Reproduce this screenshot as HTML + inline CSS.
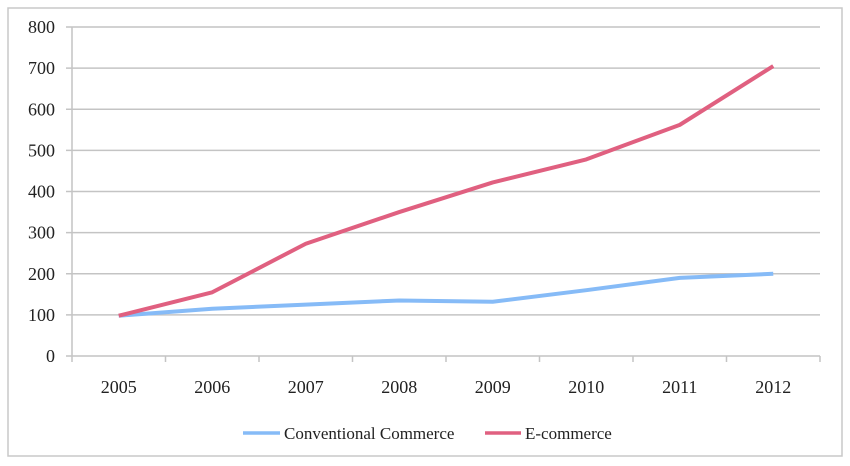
<!DOCTYPE html>
<html><head><meta charset="utf-8"><style>
body{margin:0;background:#fff;}
svg{display:block;font-family:"Liberation Serif",serif;}
</style></head><body>
<svg id="chart" width="850" height="466">
<rect x="8" y="8" width="834" height="448" fill="#fff" stroke="#c8c8c8" stroke-width="1.5"/>
<g id="grid"></g><g id="axes"></g><g id="series"></g>
<g>
<line x1="243" y1="433" x2="280" y2="433" stroke="#86bbf7" stroke-width="3.5"/>
<text x="284" y="439" font-size="17" fill="#222">Conventional  Commerce</text>
<line x1="485" y1="433" x2="521" y2="433" stroke="#e06080" stroke-width="3.5"/>
<text x="525" y="439" font-size="17" fill="#222">E-commerce</text>
</g>
</svg>
<script>
const categories=["2005","2006","2007","2008","2009","2010","2011","2012"];
const conventional=[98,115,125,135,132,160,190,200];
const ecommerce=[98,155,273,350,422,478,562,705];
const yTicks=[0,100,200,300,400,500,600,700,800];
const NS="http://www.w3.org/2000/svg";
const L=72,R=820,T=27,B=356,yMax=800;
const bw=(R-L)/categories.length;
const x=i=>L+bw*(i+0.5);
const y=v=>B-(v/yMax)*(B-T);
function mk(t,a,p){const e=document.createElementNS(NS,t);for(const k in a)e.setAttribute(k,a[k]);p.appendChild(e);return e;}
const grid=document.getElementById('grid'),axes=document.getElementById('axes'),ser=document.getElementById('series');
yTicks.forEach(v=>{
 const g=mk('line',{x1:L-6,x2:R,y1:y(v),y2:y(v),stroke:'#c4c4c4','stroke-width':1.5},grid);
 
 
 const t=mk('text',{x:L-17,y:y(v)+6,'text-anchor':'end','font-size':18,fill:'#222'},axes);
 t.textContent=v;
 
 
});
const ya=mk('line',{x1:L,x2:L,y1:T,y2:B,stroke:'#c4c4c4','stroke-width':1.5},axes);


for(let i=0;i<=categories.length;i++){
 const tk=mk('line',{x1:L+bw*i,x2:L+bw*i,y1:B,y2:B+6,stroke:'#c4c4c4','stroke-width':1.5},axes);
 
 
}
categories.forEach((c,i)=>{
 const t=mk('text',{x:x(i),y:B+37,'text-anchor':'middle','font-size':18,fill:'#222'},axes);
 t.textContent=c;
 
 
});
function line(data,color,name){
 const p=mk('polyline',{points:data.map((v,i)=>x(i)+','+y(v)).join(' '),fill:'none',stroke:color,'stroke-width':4,'stroke-linejoin':'round'},ser);
 
 
}
line(conventional,'#86bbf7','series-conventional-commerce');
line(ecommerce,'#e06080','series-e-commerce');
</script>
</body></html>
